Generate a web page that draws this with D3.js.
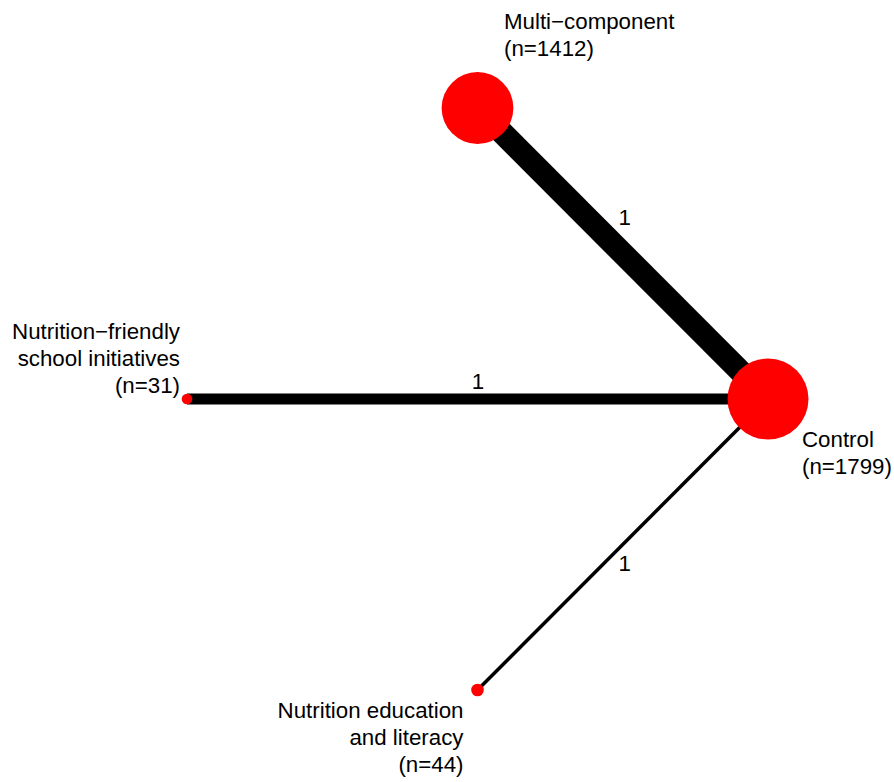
<!DOCTYPE html>
<html>
<head>
<meta charset="utf-8">
<script src="https://cdn.jsdelivr.net/npm/d3@7"></script>
<style>
  html, body { margin: 0; padding: 0; background: #fff; }
  svg { display: block; }
  text { font-family: "Liberation Sans", Arial, sans-serif; font-size: 22.3px; fill: #000; }
</style>
</head>
<body>
<script>
// Treatments of the network, in circular layout order (counter-clockwise from the right)
const treatments = ["Control", "Multi\u2212component", "Nutrition\u2212friendly school initiatives", "Nutrition education and literacy"];
const labelLines = [
  ["Control", "(n=1799)"],
  ["Multi\u2212component", "(n=1412)"],
  ["Nutrition\u2212friendly", "school initiatives", "(n=31)"],
  ["Nutrition education", "and literacy", "(n=44)"]
];
const participants = [1799, 1412, 31, 44];

// Direct comparisons: pairs of treatments, number of studies, precision weight
const edgeFrom = ["Multi\u2212component", "Nutrition\u2212friendly school initiatives", "Nutrition education and literacy"];
const edgeTo = ["Control", "Control", "Control"];
const studies = [1, 1, 1];
const precision = [23, 11, 3.5];

const W = 894, H = 782;
const svg = d3.select("body").append("svg").attr("width", W).attr("height", H);

// Circular layout on unit circle, mapped to the page with linear scales
const nodes = treatments.map((t, i) => {
  const a = i * 2 * Math.PI / treatments.length;
  return { name: t, lines: labelLines[i], n: participants[i], ux: Math.cos(a), uy: Math.sin(a), i };
});
const x = d3.scaleLinear().domain([-1, 1]).range([187, 768]);
const y = d3.scaleLinear().domain([-1, 1]).range([690, 108]);
const r = d3.scaleSqrt().domain([0, d3.max(participants)]).range([0, 40.5]);
const w = d3.scaleLinear().domain([0, d3.max(precision)]).range([0, 23]);
const byName = new Map(nodes.map(d => [d.name, d]));

const edges = edgeFrom.map((f, i) => ({ a: byName.get(f), b: byName.get(edgeTo[i]), k: studies[i], p: precision[i], i }));

// Edges
svg.append("g").selectAll("line").data(edges).join("line")
  .attr("x1", d => x(d.a.ux)).attr("y1", d => y(d.a.uy))
  .attr("x2", d => x(d.b.ux)).attr("y2", d => y(d.b.uy))
  .attr("stroke", "#000").attr("stroke-width", d => w(d.p));

// Nodes
svg.append("g").selectAll("circle").data(nodes).join("circle")
  .attr("cx", d => x(d.ux)).attr("cy", d => y(d.uy))
  .attr("r", d => r(d.n)).attr("fill", "#ff0000");

// Number of studies on each edge
const edgeLabelShift = [[2, -28.5], [0.5, -10], [2, 26.5]];
svg.append("g").selectAll("text").data(edges).join("text")
  .attr("text-anchor", "middle")
  .attr("x", d => (x(d.a.ux) + x(d.b.ux)) / 2 + edgeLabelShift[d.i][0])
  .attr("y", d => (y(d.a.uy) + y(d.b.uy)) / 2 + edgeLabelShift[d.i][1])
  .text(d => d.k);

// Treatment labels
const nodeLabelPos = [
  { dx: 34, dy: 48, anchor: "start" },
  { dx: 26.5, dy: -79.5, anchor: "start" },
  { dx: -7, dy: -60, anchor: "end" },
  { dx: -14, dy: 28, anchor: "end" }
];
const lineH = 27;
const lbl = svg.append("g").selectAll("text").data(nodes).join("text")
  .attr("text-anchor", d => nodeLabelPos[d.i].anchor)
  .attr("x", d => x(d.ux) + nodeLabelPos[d.i].dx)
  .attr("y", d => y(d.uy) + nodeLabelPos[d.i].dy);
lbl.selectAll("tspan").data(d => d.lines.map(s => ({ s, d }))).join("tspan")
  .attr("x", o => x(o.d.ux) + nodeLabelPos[o.d.i].dx)
  .attr("dy", (o, j) => j === 0 ? 0 : lineH)
  .text(o => o.s);
</script>
</body>
</html>
